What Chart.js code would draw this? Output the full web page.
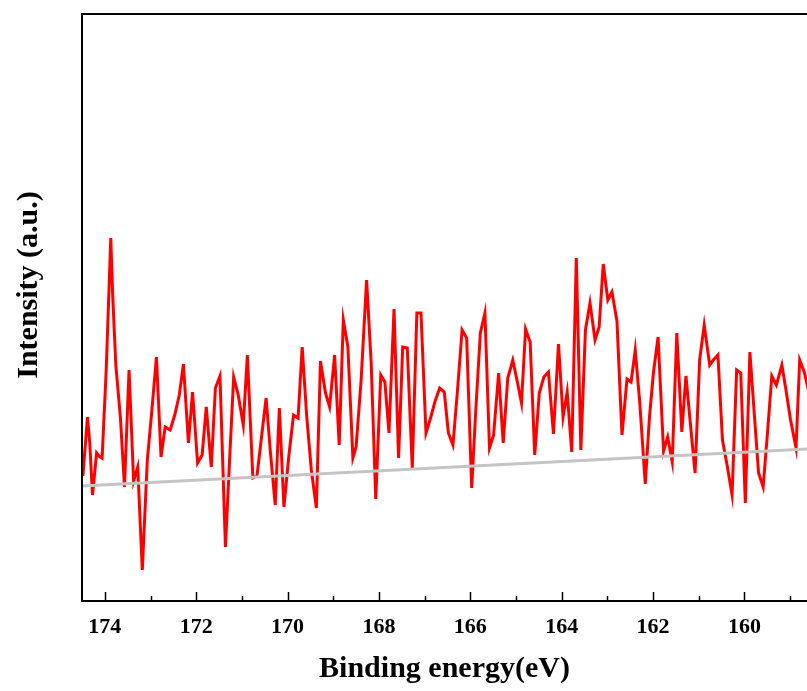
<!DOCTYPE html>
<html>
<head>
<meta charset="utf-8">
<title>XPS S 2p</title>
<script src="https://cdn.jsdelivr.net/npm/chart.js@4.4.1/dist/chart.umd.min.js"></script>
<style>
  html, body { margin: 0; padding: 0; background: #fff; }
  #wrap { width: 807px; height: 691px; }
</style>
</head>
<body>
<div id="wrap"><canvas id="xpsChart" width="807" height="691"></canvas></div>
<script>
// --- Data ---
const energy = [
  174.48, 174.38, 174.33, 174.27, 174.18, 174.13, 174.06, 173.97, 173.87, 173.83,
  173.76, 173.66, 173.57, 173.47, 173.37, 173.28, 173.18, 173.07, 172.97, 172.87,
  172.77, 172.68, 172.57, 172.47, 172.37, 172.28, 172.17, 172.08, 171.97, 171.87,
  171.78, 171.67, 171.58, 171.48, 171.36, 171.28, 171.18, 171.08, 170.97, 170.88,
  170.76, 170.67, 170.57, 170.47, 170.38, 170.27, 170.18, 170.08, 169.97, 169.87,
  169.77, 169.68, 169.58, 169.48, 169.37, 169.28, 169.17, 169.08, 168.97, 168.87,
  168.78, 168.68, 168.57, 168.50, 168.39, 168.27, 168.17, 168.07, 167.96, 167.87,
  167.78, 167.67, 167.57, 167.48, 167.38, 167.27, 167.17, 167.08, 166.97, 166.87,
  166.77, 166.67, 166.57, 166.48, 166.38, 166.28, 166.18, 166.08, 165.97, 165.88,
  165.78, 165.68, 165.58, 165.49, 165.38, 165.28, 165.18, 165.07, 164.97, 164.88,
  164.79, 164.69, 164.59, 164.49, 164.39, 164.29, 164.18, 164.07, 163.97, 163.88,
  163.78, 163.68, 163.58, 163.48, 163.38, 163.27, 163.18, 163.09, 162.99, 162.90,
  162.79, 162.68, 162.57, 162.48, 162.39, 162.29, 162.17, 162.08, 161.99, 161.89,
  161.77, 161.68, 161.58, 161.48, 161.37, 161.28, 161.18, 161.08, 160.98, 160.88,
  160.76, 160.68, 160.58, 160.48, 160.38, 160.27, 160.17, 160.08, 159.98, 159.88,
  159.79, 159.69, 159.59, 159.49, 159.40, 159.30, 159.18, 159.09, 158.99, 158.87,
  158.79, 158.69, 158.60
];
const intensity = [
  125, 184, 158, 106, 148, 145, 143, 231, 363, 308,
  236, 184, 114, 231, 120, 134,  31, 141, 191, 244,
  144, 174, 171, 186, 206, 237, 158, 209, 138, 146,
  194, 134, 213, 225,  54, 131, 224, 206, 176, 246,
  123, 125, 164, 203, 151,  96, 193,  94, 146, 186,
  183, 254, 184, 131,  93, 240, 208, 194, 246, 156,
  281, 254, 143, 154, 221, 321, 238, 102, 226, 219,
  168, 292, 143, 254, 253, 133, 288, 288, 168, 183,
  200, 213, 209, 168, 156, 211, 271, 263, 113, 191,
  268, 288, 153, 166, 228, 158, 223, 241, 219, 198,
  272, 259, 146, 208, 224, 229, 167, 257, 184, 209,
  149, 343, 151, 271, 298, 261, 274, 337, 301, 309,
  280, 166, 222, 219, 251, 198, 117, 183, 229, 264,
  150, 164, 139, 268, 169, 225, 176, 128, 241, 276,
  236, 241, 246, 161, 136, 106, 231, 228,  98, 249,
  191, 128, 114, 171, 225, 216, 236, 211, 181, 153,
  241, 229, 211
];
// straight background line (two end points)
const baseEnergy = [174.5, 158.63];
const baseIntensity = [115, 152];

const majorTicks = [174, 172, 170, 168, 166, 164, 162, 160];
const minorTicks = [173, 171, 169, 167, 165, 163, 161, 159];

const xMin = 158.63;
const xMax = 174.5;
const yMin = 0;
const yMax = 587;

const xTitle = 'Binding energy(eV)';
const yTitle = 'Intensity (a.u.)';

// --- Frame, inward ticks and rotated y title ---
const framePlugin = {
  id: 'frame',
  afterDraw(chart) {
    const ctx = chart.ctx;
    const area = chart.chartArea;
    const xs = chart.scales.x;
    ctx.save();
    ctx.strokeStyle = '#000';
    ctx.lineWidth = 2;
    ctx.beginPath();
    ctx.moveTo(area.right + 2, area.top);
    ctx.lineTo(area.left, area.top);
    ctx.lineTo(area.left, area.bottom);
    ctx.lineTo(area.right + 2, area.bottom);
    ctx.stroke();

    // ticks point into the plot
    ctx.lineWidth = 1.5;
    ctx.beginPath();
    majorTicks.forEach(v => {
      const px = Math.round(xs.getPixelForValue(v)) + 0.5;
      ctx.moveTo(px, area.bottom);
      ctx.lineTo(px, area.bottom - 9);
    });
    minorTicks.forEach(v => {
      const px = Math.round(xs.getPixelForValue(v)) + 0.5;
      ctx.moveTo(px, area.bottom);
      ctx.lineTo(px, area.bottom - 5);
    });
    ctx.stroke();

    // y title
    ctx.translate(29, 285);
    ctx.rotate(-Math.PI / 2);
    ctx.fillStyle = '#000';
    ctx.font = 'bold 30px "Liberation Serif", "Times New Roman", serif';
    ctx.textAlign = 'center';
    ctx.textBaseline = 'middle';
    ctx.fillText(yTitle, 0, 0);
    ctx.restore();
  }
};

const ctx = document.getElementById('xpsChart').getContext('2d');
const xpsChart = new Chart(ctx, {
  type: 'line',
  data: {
    datasets: [
      {
        label: 'S 2p',
        data: energy.map((e, i) => ({ x: e, y: intensity[i] })),
        borderColor: '#ff0000',
        borderWidth: 3,
        pointRadius: 0,
        tension: 0,
        fill: false,
        order: 2
      },
      {
        label: 'Background',
        data: baseEnergy.map((e, i) => ({ x: e, y: baseIntensity[i] })),
        borderColor: '#c4c4c4',
        borderWidth: 3,
        pointRadius: 0,
        tension: 0,
        fill: false,
        order: 1
      }
    ]
  },
  options: {
    responsive: false,
    animation: false,
    devicePixelRatio: 1,
    layout: { padding: { top: 14, left: 0, right: 0, bottom: 0 } },
    plugins: {
      legend: { display: false },
      tooltip: { enabled: false }
    },
    scales: {
      x: {
        type: 'linear',
        reverse: true,
        min: xMin,
        max: xMax,
        afterFit(scale) { scale.height = 90; },
        afterBuildTicks(scale) { scale.ticks = majorTicks.map(v => ({ value: v })); },
        grid: { display: false, drawTicks: false },
        border: { display: false },
        ticks: {
          padding: 13,
          color: '#000',
          maxRotation: 0,
          autoSkip: false,
          font: { family: '"Liberation Serif", "Times New Roman", serif', size: 22, weight: 'bold' }
        },
        title: {
          display: true,
          text: xTitle,
          color: '#000',
          padding: { top: 0, bottom: 4 },
          font: { family: '"Liberation Serif", "Times New Roman", serif', size: 30, weight: 'bold' }
        }
      },
      y: {
        type: 'linear',
        min: yMin,
        max: yMax,
        afterFit(scale) { scale.width = 82; },
        grid: { display: false, drawTicks: false },
        border: { display: false },
        ticks: { display: false }
      }
    }
  },
  plugins: [framePlugin]
});
</script>
</body>
</html>
